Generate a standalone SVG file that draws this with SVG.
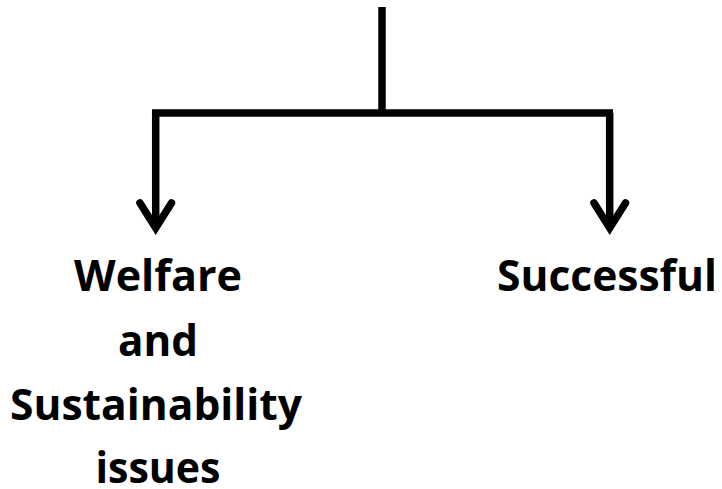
<svg xmlns="http://www.w3.org/2000/svg" width="722" height="489" viewBox="0 0 722 489">
<style>
.ln{fill:none;stroke:#000;stroke-width:7.5;stroke-linecap:butt;stroke-linejoin:miter}
.hd{fill:none;stroke:#000;stroke-width:7.5;stroke-linecap:round;stroke-linejoin:miter;stroke-miterlimit:10}
.t{font-family:"Open Sans","Liberation Sans",sans-serif;font-weight:bold;font-size:43px;fill:#000;text-anchor:middle}
</style>
<rect width="722" height="489" fill="#fff"/>
<g id="connectors">
<line class="ln" x1="382" y1="7" x2="382" y2="113"/>
<line class="ln" x1="152" y1="113" x2="613" y2="113"/>
<line class="ln" x1="155.7" y1="113" x2="155.7" y2="228"/>
<polyline class="hd" points="140,203 155.7,228 171.5,203"/>
<line class="ln" x1="609.7" y1="113" x2="609.7" y2="228"/>
<polyline class="hd" points="594,203 609.7,228 625.5,203"/>
</g>
<g id="node-welfare">
<text class="t" x="158" y="291" textLength="168" lengthAdjust="spacingAndGlyphs">Welfare</text>
<text class="t" x="158" y="356" textLength="80" lengthAdjust="spacingAndGlyphs">and</text>
<text class="t" x="156" y="420" textLength="292" lengthAdjust="spacingAndGlyphs">Sustainability</text>
<text class="t" x="158" y="483" textLength="125" lengthAdjust="spacingAndGlyphs">issues</text>
</g>
<g id="node-successful">
<text class="t" x="607" y="291" textLength="220" lengthAdjust="spacingAndGlyphs">Successful</text>
</g>
</svg>
